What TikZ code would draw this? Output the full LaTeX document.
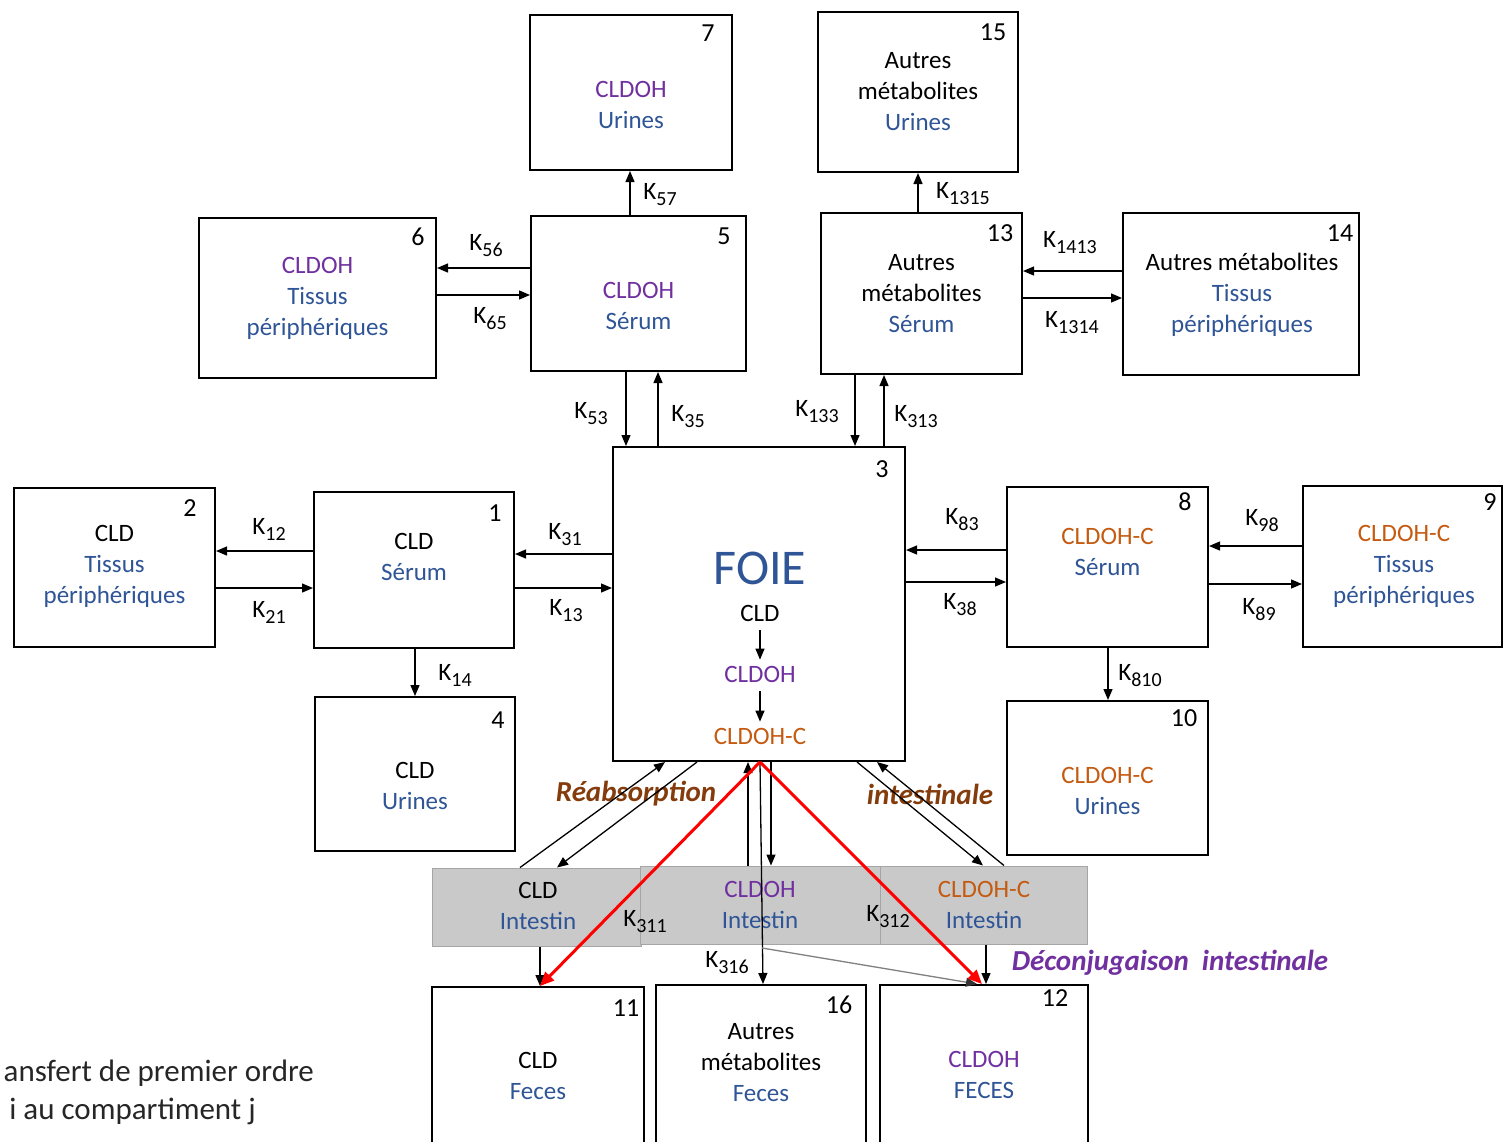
\documentclass[tikz,border=0pt]{standalone}
\usepackage{fontspec}
\setmainfont{Carlito}
\usetikzlibrary{arrows.meta}
\definecolor{cpurple}{HTML}{7030A0}
\definecolor{cblue}{HTML}{2F5597}
\definecolor{corange}{HTML}{C55A11}
\definecolor{cbrown}{HTML}{843C0C}
\definecolor{cgrayfill}{HTML}{C9C9C9}
\definecolor{cgrayline}{HTML}{A5A5A5}
\newcommand\Pur[1]{\textcolor{cpurple}{#1}}
\newcommand\Blu[1]{\textcolor{cblue}{#1}}
\newcommand\Org[1]{\textcolor{corange}{#1}}
\newcommand\Kij[1]{K\raisebox{-6pt}{\fontsize{20pt}{20pt}\selectfont #1}}
\begin{document}
\begin{tikzpicture}[x=1pt,y=-1pt,
  box/.style={draw=black,line width=2pt,fill=white,inner sep=0pt},
  gbox/.style={draw=cgrayline,line width=1pt,fill=cgrayfill,inner sep=0pt},
  txt/.style={align=center,inner sep=0pt,font=\fontsize{25pt}{31pt}\selectfont},
  num/.style={inner sep=0pt,font=\fontsize{26pt}{26pt}\selectfont},
  klab/.style={inner sep=0pt,font=\fontsize{25pt}{25pt}\selectfont},
  note/.style={inner sep=0pt,font=\fontsize{29pt}{29pt}\selectfont\bfseries\itshape},
  legend/.style={inner sep=0pt,text=black!85,font=\fontsize{31pt}{31pt}\selectfont},
  arr/.style={line width=1.3pt,-{Triangle[length=11pt,width=9pt]}},
  garr/.style={draw=gray,line width=1.3pt,-{Triangle[length=11pt,width=9pt,color=black!80]}},
  rarr/.style={draw=red,line width=3pt,-{Triangle[length=14pt,width=12pt]}},
]
\useasboundingbox (0,0) rectangle (1504,1141);
\clip (0,0) rectangle (1504,1141);

% ---------- compartments ----------
\node[box,minimum width=202pt,minimum height=155pt] (b7)  at (631,92.5) {};
\node[box,minimum width=200pt,minimum height=160pt] (b15) at (918,92) {};
\node[box,minimum width=237pt,minimum height=160pt] (b6)  at (317.5,298) {};
\node[box,minimum width=215pt,minimum height=155pt] (b5)  at (638.5,293.5) {};
\node[box,minimum width=201pt,minimum height=161pt] (b13) at (921.5,293.5) {};
\node[box,minimum width=236pt,minimum height=162pt] (b14) at (1241,294) {};
\node[box,minimum width=292pt,minimum height=314pt] (b3)  at (759,604) {};
\node[box,minimum width=201pt,minimum height=159pt] (b2)  at (114.5,567.5) {};
\node[box,minimum width=200pt,minimum height=156pt] (b1)  at (414,570) {};
\node[box,minimum width=200pt,minimum height=154pt] (b4)  at (415,774) {};
\node[box,minimum width=201pt,minimum height=160pt] (b8)  at (1107.5,567) {};
\node[box,minimum width=199pt,minimum height=161pt] (b9)  at (1402.5,566.5) {};
\node[box,minimum width=201pt,minimum height=154pt] (b10) at (1107.5,778) {};
\node[box,minimum width=212pt,minimum height=162pt] (b11) at (538,1068) {};
\node[box,minimum width=210pt,minimum height=164pt] (b16) at (761,1067) {};
\node[box,minimum width=208pt,minimum height=164pt] (b12) at (984,1067) {};

\node[gbox,minimum width=209pt,minimum height=78pt] (gi1) at (536.5,907) {};
\node[gbox,minimum width=240pt,minimum height=78pt] (gi2) at (760,905) {};
\node[gbox,minimum width=207pt,minimum height=78pt] (gi3) at (983.5,905) {};

% ---------- numbers ----------
\node[num] (n7)  at (708,33) {7};
\node[num] (n15) at (993,32) {15};
\node[num] (n6)  at (418,237) {6};
\node[num] (n5)  at (724,236) {5};
\node[num] (n13) at (1000,233) {13};
\node[num] (n14) at (1340,233) {14};
\node[num] (n3)  at (882,469) {3};
\node[num] (n2)  at (190,508) {2};
\node[num] (n1)  at (495,513) {1};
\node[num] (n4)  at (498,720) {4};
\node[num] (n8)  at (1185,502) {8};
\node[num] (n9)  at (1490,502) {9};
\node[num] (n10) at (1184,718) {10};
\node[num] (n11) at (626,1008) {11};
\node[num] (n16) at (839,1005) {16};
\node[num] (n12) at (1055,998) {12};

% ---------- texts ----------
\node[txt] (t7)  at (631,104.5) {\Pur{CLDOH}\\\Blu{Urines}};
\node[txt] (t15) at (918,91.5) {Autres\\métabolites\\\Blu{Urines}};
\node[txt] (t6)  at (317.5,298.5) {\Pur{CLDOH}\\\Blu{Tissus}\\\Blu{périphériques}};
\node[txt] (t5)  at (638.5,305.5) {\Pur{CLDOH}\\\Blu{Sérum}};
\node[txt] (t13) at (921.5,294) {Autres\\métabolites\\\Blu{Sérum}};
\node[txt] (t14) at (1242,294.5) {Autres métabolites\\\Blu{Tissus}\\\Blu{périphériques}};
\node[txt] (t2)  at (114.5,566.5) {CLD\\\Blu{Tissus}\\\Blu{périphériques}};
\node[txt] (t1)  at (414,556.5) {CLD\\\Blu{Sérum}};
\node[txt] (t4)  at (415,785.5) {CLD\\\Blu{Urines}};
\node[txt] (t8)  at (1107.5,551.5) {\Org{CLDOH-C}\\\Blu{Sérum}};
\node[txt] (t9)  at (1404,566.5) {\Org{CLDOH-C}\\\Blu{Tissus}\\\Blu{périphériques}};
\node[txt] (t10) at (1107.5,790.5) {\Org{CLDOH-C}\\\Blu{Urines}};
\node[txt] (t11) at (538,1075.5) {CLD\\\Blu{Feces}};
\node[txt] (t16) at (761,1063) {Autres\\métabolites\\\Blu{Feces}};
\node[txt] (t12) at (984,1074.5) {\Pur{CLDOH}\\\Blu{FECES}};
\node[txt] (ti1) at (538,906) {CLD\\\Blu{Intestin}};
\node[txt] (ti2) at (760,905) {\Pur{CLDOH}\\\Blu{Intestin}};
\node[txt] (ti3) at (984,904.5) {\Org{CLDOH-C}\\\Blu{Intestin}};

% FOIE content
\node[inner sep=0pt,text=cblue,font=\fontsize{50pt}{50pt}\selectfont] (f0) at (760,568) {FOIE};
\node[txt] (f1) at (760,613) {CLD};
\node[txt] (f2) at (760,674) {\Pur{CLDOH}};
\node[txt] (f3) at (760,736) {\Org{CLDOH-C}};
\draw[arr,shorten <=9pt,shorten >=6pt] (f1.south) -- (f2.north);
\draw[arr,shorten <=9pt,shorten >=6pt] (f2.south) -- (f3.north);

% ---------- notes ----------
\node[note,text=cbrown] (reab) at (636,794) {Réabsorption};
\node[note,text=cbrown] (intes) at (930,794) {intestinale};
\node[note,text=cpurple] (deconj) at (1170,963) {Déconjugaison\hspace{0.45em}intestinale};
\node[legend,anchor=base east] (leg1) at (314,1081) {ansfert de premier ordre};
\node[legend,anchor=base east] (leg2) at (256,1119) {i au compartiment j};

% ---------- K labels ----------
\node[klab] (k57)   at (660,195) {\Kij{57}};
\node[klab] (k1315) at (963,194) {\Kij{1315}};
\node[klab] (k56)   at (486,246) {\Kij{56}};
\node[klab] (k65)   at (490,319) {\Kij{65}};
\node[klab] (k1413) at (1070,243) {\Kij{1413}};
\node[klab] (k1314) at (1072,323) {\Kij{1314}};
\node[klab] (k53)   at (591,414) {\Kij{53}};
\node[klab] (k35)   at (688,417) {\Kij{35}};
\node[klab] (k133)  at (817,412) {\Kij{133}};
\node[klab] (k313)  at (916,417) {\Kij{313}};
\node[klab] (k12)   at (269,529) {\Kij{12}};
\node[klab] (k21)   at (269,612) {\Kij{21}};
\node[klab] (k31)   at (565,535) {\Kij{31}};
\node[klab] (k13)   at (566,611) {\Kij{13}};
\node[klab] (k14)   at (455,675) {\Kij{14}};
\node[klab] (k83)   at (962,520) {\Kij{83}};
\node[klab] (k38)   at (960,605) {\Kij{38}};
\node[klab] (k98)   at (1262,521) {\Kij{98}};
\node[klab] (k89)   at (1259,610) {\Kij{89}};
\node[klab] (k810)  at (1140,676) {\Kij{810}};
\node[klab] (k311)  at (645,922) {\Kij{311}};
\node[klab] (k312)  at (888,917) {\Kij{312}};
\node[klab] (k316)  at (727,963) {\Kij{316}};

% ---------- connectors ----------
\draw[arr] (630,0 |- b5.north) -- (630,0 |- b7.south);
\draw[arr] (918,0 |- b13.north) -- (918,0 |- b15.south);
\draw[arr] (b5.west |- 0,268) -- (b6.east |- 0,268);
\draw[arr] (b6.east |- 0,295) -- (b5.west |- 0,295);
\draw[arr] (b14.west |- 0,271) -- (b13.east |- 0,271);
\draw[arr] (b13.east |- 0,298) -- (b14.west |- 0,298);
\draw[arr] (626,0 |- b5.south) -- (626,0 |- b3.north);
\draw[arr] (658,0 |- b3.north) -- (658,0 |- b5.south);
\draw[arr] (855,0 |- b13.south) -- (855,0 |- b3.north);
\draw[arr] (884,0 |- b3.north) -- (884,0 |- b13.south);
\draw[arr] (b1.west |- 0,551) -- (b2.east |- 0,551);
\draw[arr] (b2.east |- 0,588) -- (b1.west |- 0,588);
\draw[arr] (b3.west |- 0,554) -- (b1.east |- 0,554);
\draw[arr] (b1.east |- 0,588) -- (b3.west |- 0,588);
\draw[arr] (415,0 |- b1.south) -- (415,0 |- b4.north);
\draw[arr] (b8.west |- 0,550) -- (b3.east |- 0,550);
\draw[arr] (b3.east |- 0,582) -- (b8.west |- 0,582);
\draw[arr] (b9.west |- 0,546) -- (b8.east |- 0,546);
\draw[arr] (b8.east |- 0,584) -- (b9.west |- 0,584);
\draw[arr] (1108,0 |- b8.south) -- (1108,0 |- b10.north);

% intestinal exchanges
\draw[arr] (520,0 |- gi1.north) -- (665,0 |- b3.south);
\draw[arr] (697,0 |- b3.south) -- (557,0 |- gi1.north);
\draw[arr] (748,0 |- gi2.north) -- (748,0 |- b3.south);
\draw[arr] (771,0 |- b3.south) -- (771,0 |- gi2.north);
\draw[arr] (1004,0 |- gi3.north) -- (877,0 |- b3.south);
\draw[arr] (857,0 |- b3.south) -- (983,0 |- gi3.north);
\draw[arr] (760,0 |- b3.south) -- (763,0 |- b16.north);
\coordinate (m3) at (762,948);
\draw[garr] (m3) -- (977,0 |- b12.north);
\draw[arr] (540,0 |- gi1.south) -- (540,0 |- b11.north);
\draw[arr] (986,0 |- gi3.south) -- (986,0 |- b12.north);
\draw[rarr] (760,0 |- b3.south) -- (540,0 |- b11.north);
\draw[rarr] (760,0 |- b3.south) -- (982,0 |- b12.north);
\end{tikzpicture}
\end{document}
